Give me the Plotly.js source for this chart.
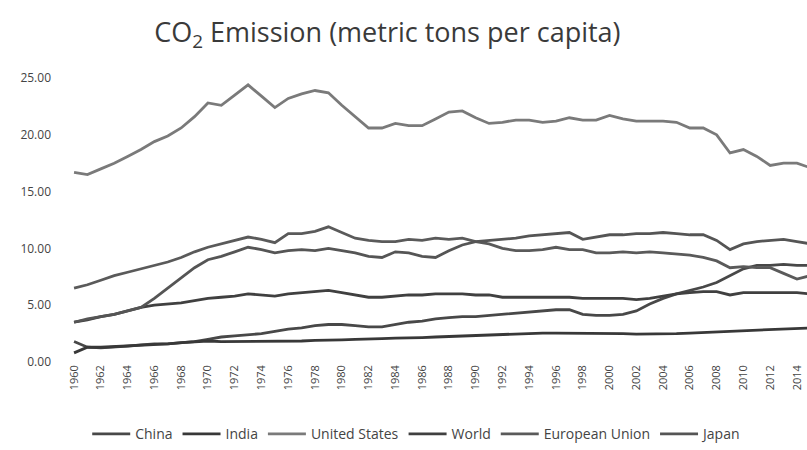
<!DOCTYPE html>
<html>
<head>
<meta charset="utf-8">
<script src="https://cdn.plot.ly/plotly-3.0.1.min.js"></script>
<style>
  html, body { margin: 0; padding: 0; background: #ffffff; }
  #chart { width: 807px; height: 450px; }
</style>
</head>
<body>
<div id="chart"></div>
<script>
const years = [1960,1961,1962,1963,1964,1965,1966,1967,1968,1969,
               1970,1971,1972,1973,1974,1975,1976,1977,1978,1979,
               1980,1981,1982,1983,1984,1985,1986,1987,1988,1989,
               1990,1991,1992,1993,1994,1995,1996,1997,1998,1999,
               2000,2001,2002,2003,2004,2005,2006,2007,2008,2009,
               2010,2011,2012,2013,2014,2015];

const china = [1.8,1.3,1.25,1.3,1.4,1.5,1.6,1.6,1.7,1.8,
               2.0,2.2,2.3,2.4,2.5,2.7,2.9,3.0,3.2,3.3,
               3.3,3.2,3.1,3.1,3.3,3.5,3.6,3.8,3.9,4.0,
               4.0,4.1,4.2,4.3,4.4,4.5,4.6,4.6,4.2,4.1,
               4.1,4.2,4.5,5.1,5.6,6.0,6.3,6.6,7.0,7.6,
               8.2,8.5,8.5,8.6,8.5,8.5];

const india = [0.8,1.3,1.3,1.35,1.4,1.5,1.5,1.6,1.7,1.8,
               1.85,1.8,1.8,1.8,1.8,1.8,1.85,1.85,1.9,1.9,
               1.95,2.0,2.0,2.05,2.1,2.1,2.15,2.2,2.25,2.3,
               2.3,2.35,2.4,2.45,2.5,2.55,2.55,2.55,2.5,2.5,
               2.5,2.5,2.45,2.45,2.45,2.5,2.55,2.6,2.65,2.7,
               2.75,2.8,2.85,2.9,2.95,3.0];

const unitedStates = [16.7,16.5,17.0,17.5,18.1,18.7,19.4,19.9,20.6,21.6,
                      22.8,22.6,23.5,24.4,23.4,22.4,23.2,23.6,23.9,23.7,
                      22.6,21.6,20.6,20.6,21.0,20.8,20.8,21.4,22.0,22.1,
                      21.5,21.0,21.1,21.3,21.3,21.1,21.2,21.5,21.3,21.3,
                      21.7,21.4,21.2,21.2,21.2,21.1,20.6,20.6,20.0,18.4,
                      18.7,18.1,17.3,17.5,17.5,17.1];

const world = [3.5,3.7,4.0,4.2,4.5,4.8,5.0,5.1,5.2,5.4,
               5.6,5.7,5.8,6.0,5.9,5.8,6.0,6.1,6.2,6.3,
               6.1,5.9,5.7,5.7,5.8,5.9,5.9,6.0,6.0,6.0,
               5.9,5.9,5.7,5.7,5.7,5.7,5.7,5.7,5.6,5.6,
               5.6,5.6,5.5,5.6,5.8,6.0,6.1,6.2,6.2,5.9,
               6.1,6.1,6.1,6.1,6.1,6.0];

const europeanUnion = [6.5,6.8,7.2,7.6,7.9,8.2,8.5,8.8,9.2,9.7,
                       10.1,10.4,10.7,11.0,10.8,10.5,11.3,11.3,11.5,11.9,
                       11.4,10.9,10.7,10.6,10.6,10.8,10.7,10.9,10.8,10.9,
                       10.6,10.4,10.0,9.8,9.8,9.9,10.1,9.9,9.9,9.6,
                       9.6,9.7,9.6,9.7,9.6,9.5,9.4,9.2,8.9,8.3,
                       8.4,8.3,8.3,7.8,7.3,7.6];

const japan = [3.5,3.8,4.0,4.2,4.5,4.8,5.6,6.5,7.4,8.3,
               9.0,9.3,9.7,10.1,9.9,9.6,9.8,9.9,9.8,10.0,
               9.8,9.6,9.3,9.2,9.7,9.6,9.3,9.2,9.8,10.3,
               10.6,10.7,10.8,10.9,11.1,11.2,11.3,11.4,10.8,11.0,
               11.2,11.2,11.3,11.3,11.4,11.3,11.2,11.2,10.7,9.9,
               10.4,10.6,10.7,10.8,10.6,10.4];

const seriesNames = ["China", "India", "United States", "World", "European Union", "Japan"];
const seriesValues = [china, india, unitedStates, world, europeanUnion, japan];
const seriesColors = ["#484848", "#383838", "#7a7a7a", "#404040", "#5a5a5a", "#555555"];

const tickYears = [1960,1962,1964,1966,1968,1970,1972,1974,1976,1978,1980,1982,1984,1986,
                   1988,1990,1992,1994,1996,1998,2000,2002,2004,2006,2008,2010,2012,2014];
const yTicks = [0, 5, 10, 15, 20, 25];

const traces = seriesNames.map((name, i) => ({
  type: "scatter",
  mode: "lines",
  name: name,
  x: years,
  y: seriesValues[i],
  line: { color: seriesColors[i], width: 2.8 },
  hoverinfo: "skip"
}));

const layout = {
  width: 807,
  height: 450,
  paper_bgcolor: "#ffffff",
  plot_bgcolor: "#ffffff",
  margin: { l: 62, r: 0, t: 78, b: 88 },
  font: { family: "Open Sans, sans-serif", color: "#444444" },
  title: {
    text: "CO<sub>2</sub> Emission (metric tons per capita)",
    font: { family: "Open Sans, sans-serif", size: 27, color: "#3a3a3a" },
    x: 0.48, xref: "container", xanchor: "center",
    y: 0.927, yref: "container", yanchor: "middle"
  },
  xaxis: {
    type: "linear",
    range: [1959.1, 2014.75],
    tickmode: "array",
    tickvals: tickYears,
    ticktext: tickYears.map(String),
    tickangle: -90,
    tickfont: { size: 11, color: "#444444" },
    showgrid: false,
    zeroline: false,
    showline: false,
    ticks: ""
  },
  yaxis: {
    range: [0, 25],
    tickmode: "array",
    tickvals: yTicks,
    tickformat: ".2f",
    tickfont: { size: 12, color: "#444444" },
    ticklabelstandoff: 10,
    showgrid: false,
    zeroline: false,
    showline: false,
    ticks: ""
  },
  showlegend: true,
  legend: {
    orientation: "h",
    x: 0.517, xref: "container", xanchor: "center",
    y: 0.035, yref: "container", yanchor: "middle",
    font: { size: 14, color: "#444444" },
    itemwidth: 38,
    tracegroupgap: 0,
    bgcolor: "rgba(0,0,0,0)"
  }
};

Plotly.newPlot("chart", traces, layout, { staticPlot: true, displayModeBar: false });
</script>
</body>
</html>
